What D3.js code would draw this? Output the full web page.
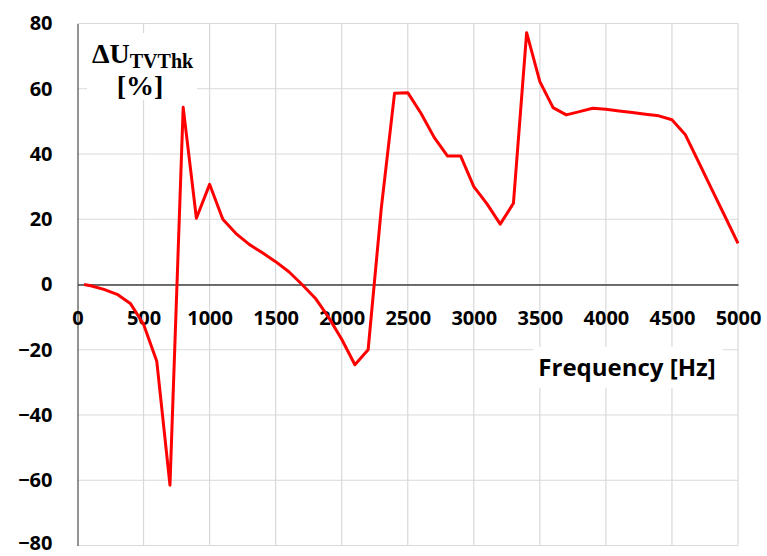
<!DOCTYPE html>
<html>
<head>
<meta charset="utf-8">
<script src="https://cdn.jsdelivr.net/npm/d3@7"></script>
<style>
  html, body { margin: 0; padding: 0; background: #fff; }
  svg { display: block; }
</style>
</head>
<body>
<svg id="chart" width="767" height="556"></svg>
<script>
// Frequency response of the voltage deviation ΔU_TVThk
const frequencies = [50, 100, 200, 300, 400, 500, 600, 700, 800, 900, 1000,
  1100, 1200, 1300, 1400, 1500, 1600, 1700, 1800, 1900, 2000,
  2100, 2200, 2300, 2400, 2500, 2600, 2700, 2800, 2900, 3000,
  3100, 3200, 3300, 3400, 3500, 3600, 3700, 3800, 3900, 4000,
  4100, 4200, 4300, 4400, 4500, 4600, 4700, 4800, 4900, 5000];
const deltaU = [0, -0.4, -1.5, -3.0, -5.8, -12.2, -23.5, -61.5, 54.3, 20.3, 30.7,
  20.0, 15.6, 12.3, 9.7, 7.0, 3.9, 0.0, -4.2, -10.0, -16.8,
  -24.6, -20.0, 23.5, 58.6, 58.8, 52.5, 45.1, 39.4, 39.4, 30.0,
  24.7, 18.5, 24.9, 77.2, 62.2, 54.2, 52.0, 53.0, 54.0, 53.7,
  53.2, 52.7, 52.2, 51.7, 50.5, 46.0, 37.7, 29.3, 21.0, 12.6];
const xTicks = [0, 500, 1000, 1500, 2000, 2500, 3000, 3500, 4000, 4500, 5000];
const yTicks = [-80, -60, -40, -20, 0, 20, 40, 60, 80];

const svg = d3.select("#chart");
const plotLeft = 77.5, plotRight = 738, plotTop = 23.5, plotBottom = 545.5;

const x = d3.scaleLinear().domain([0, 5000]).range([plotLeft, plotRight]);
const y = d3.scaleLinear().domain([-80, 80]).range([plotBottom, plotTop]);

const tickFont = "'Open Sans', 'Liberation Sans', sans-serif";

// grid
const grid = svg.append("g").attr("stroke", "#d9d9d9").attr("stroke-width", 1.2);
grid.selectAll("line.h").data(yTicks).join("line")
  .attr("x1", plotLeft).attr("x2", plotRight)
  .attr("y1", d => y(d)).attr("y2", d => y(d));
grid.selectAll("line.v").data(xTicks.slice(1)).join("line")
  .attr("y1", plotTop).attr("y2", plotBottom)
  .attr("x1", d => x(d)).attr("x2", d => x(d));

// label backgrounds that mask the grid
svg.append("rect").attr("x", 87).attr("y", 33).attr("width", 110).attr("height", 67).attr("fill", "#fff");
svg.append("rect").attr("x", 533).attr("y", 347).attr("width", 190).attr("height", 41).attr("fill", "#fff");

// y axis
const yAxis = d3.axisLeft(y).tickValues(yTicks).tickSize(0).tickPadding(25)
  .tickFormat(d3.format("d"));
const gy = svg.append("g").attr("transform", `translate(${plotLeft},0)`).call(yAxis);
gy.select(".domain").attr("stroke", "#595959").attr("stroke-width", 1.3);
gy.selectAll("text")
  .attr("font-family", tickFont).attr("font-weight", "bold")
  .attr("font-size", 20).attr("fill", "#000")
  .attr("dy", d => d === -80 ? "0.22em" : "0.32em");

// x axis along zero
const xAxis = d3.axisBottom(x).tickValues(xTicks).tickSize(0).tickPadding(0)
  .tickFormat(d3.format("d"));
const gx = svg.append("g").attr("transform", `translate(0,${y(0)})`).call(xAxis);
gx.select(".domain").attr("stroke", "#404040").attr("stroke-width", 1.3);
gx.selectAll("text")
  .attr("font-family", tickFont).attr("font-weight", "bold")
  .attr("font-size", 20).attr("fill", "#000")
  .attr("dy", null).attr("y", 40);

// data line
const line = d3.line().x((d, i) => x(frequencies[i])).y(d => y(d));
svg.append("path").datum(deltaU)
  .attr("d", line)
  .attr("fill", "none").attr("stroke", "#ff0000")
  .attr("stroke-width", 3).attr("stroke-linejoin", "round");

// axis titles
const serif = "'Liberation Serif', 'Times New Roman', serif";
const yt = svg.append("text").attr("x", 92).attr("y", 63)
  .attr("font-family", serif).attr("font-weight", "bold").attr("font-size", 28).attr("fill", "#000");
yt.append("tspan").text("ΔU");
yt.append("tspan").attr("font-size", 20).attr("dy", 5).text("TVThk");
svg.append("text").attr("x", 140).attr("y", 95).attr("text-anchor", "middle")
  .attr("font-family", serif).attr("font-weight", "bold").attr("font-size", 28).attr("fill", "#000")
  .text("[%]");

svg.append("text").attr("x", 627).attr("y", 376).attr("text-anchor", "middle")
  .attr("font-family", tickFont).attr("font-weight", "bold").attr("font-size", 24).attr("fill", "#000")
  .text("Frequency [Hz]");
</script>
</body>
</html>
